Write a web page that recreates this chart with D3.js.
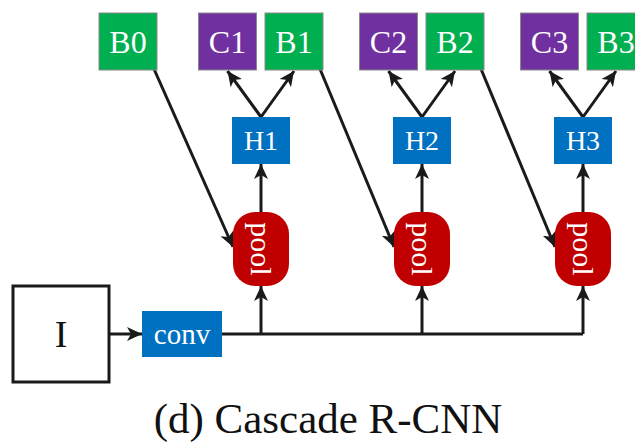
<!DOCTYPE html>
<html>
<head>
<meta charset="utf-8">
<script src="https://cdn.jsdelivr.net/npm/d3@7"></script>
<style>
  html, body { margin: 0; padding: 0; background: #fff; }
  svg { display: block; }
</style>
</head>
<body>
<div id="chart"></div>
<script>
// ---- data ----
const stages = [1, 2, 3];
const headLabels = ["H1", "H2", "H3"];
const classLabels = ["C1", "C2", "C3"];
const boxLabels = ["B0", "B1", "B2", "B3"];
const poolLabels = ["pool", "pool", "pool"];
const inputLabel = "I";
const backboneLabel = "conv";
const captionText = "(d) Cascade R-CNN";

// ---- layout ----
const W = 635, H = 445;
const FONT = "'Liberation Serif', 'Times New Roman', serif";
const C = { green: "#00B050", purple: "#7030A0", blue: "#0070C0", red: "#C00000", line: "#1a1a1a" };

const svg = d3.select("#chart").append("svg").attr("width", W).attr("height", H);

const xStage = d3.scaleLinear().domain([1, 3]).range([261, 583]);
const y = { topT: 13, topB: 70, hT: 117, hB: 164, pT: 212, pB: 286, bus: 334, pMid: 247 };
const topW = 58, hW = 58, poolW = 56;

const cX = k => xStage(k) - 33.5;
const bX = k => k === 0 ? xStage(0) + 28 : xStage(k) + 33;

// arrow marker
svg.append("defs").append("marker")
  .attr("id", "arr").attr("markerUnits", "userSpaceOnUse")
  .attr("viewBox", "-15 -7.5 16 15").attr("refX", 0).attr("refY", 0)
  .attr("markerWidth", 16).attr("markerHeight", 15).attr("orient", "auto")
  .append("path").attr("d", "M0,0 L-15,-7 L-11,0 L-15,7 Z").attr("fill", C.line);

const lines = svg.append("g").attr("stroke", C.line).attr("stroke-width", 3).attr("fill", "none");
function arrow(x1, y1, x2, y2) {
  lines.append("line").attr("x1", x1).attr("y1", y1).attr("x2", x2).attr("y2", y2)
    .attr("marker-end", "url(#arr)");
}
function seg(x1, y1, x2, y2) {
  lines.append("line").attr("x1", x1).attr("y1", y1).attr("x2", x2).attr("y2", y2);
}

// I box
const ix = 13, iy = 286, iw = 96, ih = 96;
// conv box
const cvx = 142, cvy = 311, cvw = 80, cvh = 46;

// connections
arrow(ix + iw, y.bus, cvx, y.bus);
seg(cvx + cvw, y.bus, xStage(3), y.bus);
stages.forEach((k, i) => {
  const sx = xStage(k);
  arrow(sx, y.bus, sx, y.pB);           // bus -> pool
  arrow(sx, y.pT, sx, y.hB);            // pool -> head
  arrow(sx, y.hT, cX(k), y.topB + 1);   // head -> class
  arrow(sx, y.hT, bX(k), y.topB + 1);   // head -> box
  // previous box -> pool
  arrow(bX(k - 1) + topW / 2 - 3, y.topB - 1, sx - poolW / 2, y.pMid);
});

// nodes
const nodes = svg.append("g");
function box(cx, cy, w, h, fill, label, fs, opts = {}) {
  nodes.append("rect").attr("x", cx - w / 2).attr("y", cy - h / 2).attr("width", w).attr("height", h)
    .attr("rx", opts.rx || 0).attr("fill", fill)
    .attr("stroke", opts.stroke || "none").attr("stroke-width", opts.sw || 0);
  const t = nodes.append("text").attr("x", cx).attr("y", cy)
    .attr("text-anchor", "middle").attr("dominant-baseline", "central")
    .attr("font-family", FONT).attr("font-size", fs).attr("fill", opts.color || "#fff")
    .text(label);
  if (opts.rotate) t.attr("transform", `rotate(90,${cx},${cy})`);
}

const topMid = (y.topT + y.topB) / 2;
boxLabels.forEach((lab, k) => box(bX(k), topMid, topW, y.topB - y.topT, C.green, lab, 32, { stroke: "#8a8a8a", sw: 1 }));
classLabels.forEach((lab, i) => box(cX(stages[i]), topMid, topW, y.topB - y.topT, C.purple, lab, 32, { stroke: "#8a8a8a", sw: 1 }));
headLabels.forEach((lab, i) => box(xStage(stages[i]), (y.hT + y.hB) / 2, hW, y.hB - y.hT, C.blue, lab, 28));
poolLabels.forEach((lab, i) => box(xStage(stages[i]), (y.pT + y.pB) / 2, poolW, y.pB - y.pT, C.red, lab, 30, { rx: 22, rotate: true }));
box(cvx + cvw / 2, cvy + cvh / 2, cvw, cvh, C.blue, backboneLabel, 29);

nodes.append("rect").attr("x", ix).attr("y", iy).attr("width", iw).attr("height", ih)
  .attr("fill", "#fff").attr("stroke", C.line).attr("stroke-width", 3);
nodes.append("text").attr("x", ix + iw / 2).attr("y", iy + ih / 2).attr("text-anchor", "middle")
  .attr("dominant-baseline", "central").attr("font-family", FONT).attr("font-size", 38)
  .attr("fill", "#111").text(inputLabel);

svg.append("text").attr("x", 328).attr("y", 433).attr("text-anchor", "middle")
  .attr("font-family", FONT).attr("font-size", 43).attr("fill", "#111").text(captionText);
</script>
</body>
</html>
